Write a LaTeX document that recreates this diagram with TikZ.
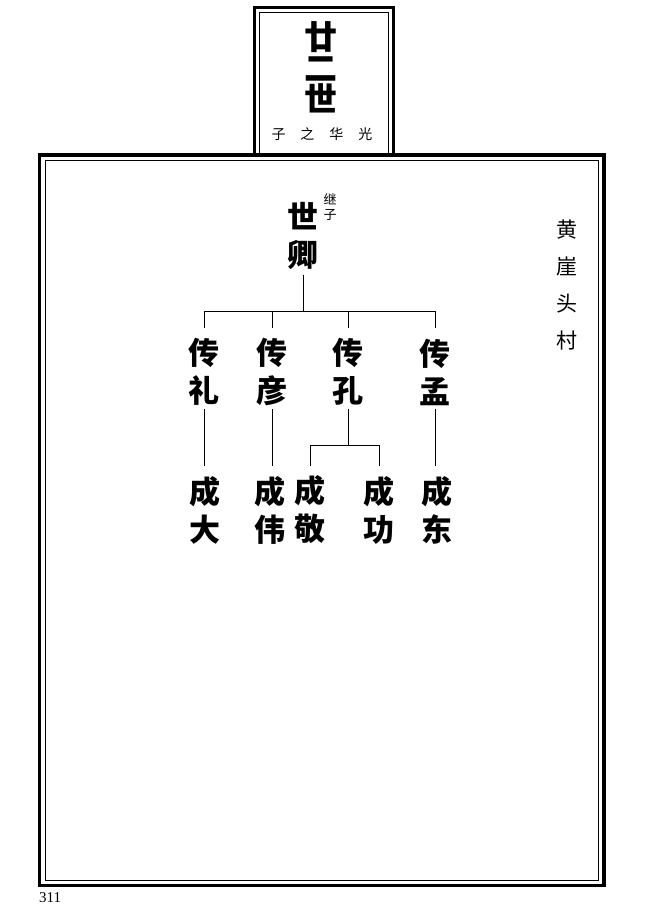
\documentclass[tikz,border=0pt]{standalone}
\usepackage{fontspec}
\setmainfont{Liberation Serif}
\newfontfamily\cjk{Noto Sans CJK SC}
\usetikzlibrary{calc}
\tikzset{
  thickframe/.style={line width=3.2pt},
  thinframe/.style={line width=1pt},
  link/.style={line width=0.9pt},
  person/.style={inner sep=0pt, align=center, font=\cjk\bfseries\fontsize{31}{38}\selectfont},
  note/.style={inner sep=0pt, align=center, font=\cjk\fontsize{13}{15}\selectfont},
  village/.style={inner sep=0pt, align=center, font=\cjk\fontsize{21}{37}\selectfont},
}
\begin{document}
\begin{tikzpicture}[x=1pt,y=-1pt]
\useasboundingbox (0,0) rectangle (646,914);
% main frame
\draw[thickframe] (39.5,155) rectangle (604,885.5);
\draw[thinframe] (45.5,160) rectangle (598,880.5);
% top tab
\draw[thickframe] (254.5,155) -- (254.5,7.5) -- (393.5,7.5) -- (393.5,155);
\draw[thinframe] (259.5,155) -- (259.5,12.5) -- (388,12.5) -- (388,155);
% top tab text
\node[inner sep=0pt, align=center, font=\cjk\bfseries\fontsize{33}{31}\selectfont] (gen) at (321,67.5) {廿\\二\\世};
\node[inner sep=0pt, font=\cjk\fontsize{14}{14}\selectfont] (sub) at (322,134) {子\hspace{15pt}之\hspace{15pt}华\hspace{15pt}光};
% village
\node[village] (vil) at (567,285) {黄\\崖\\头\\村};
% tree
\node[person] (sq) at (303,236) {世\\卿};
\node[note] (jz) at (330,207) {继\\子};
\node[person] (li) at (204,372) {传\\礼};
\node[person] (yan) at (272,372) {传\\彦};
\node[person] (kong) at (348,372) {传\\孔};
\node[person] (meng) at (435,372) {传\\孟};
\node[person] (da) at (205,510) {成\\大};
\node[person] (wei) at (270,510) {成\\伟};
\node[person] (jing) at (310,510) {成\\敬};
\node[person] (gong) at (379,510) {成\\功};
\node[person] (dong) at (437,510) {成\\东};
% connectors
\foreach \c in {li,yan,kong,meng}
  \draw[link] ([yshift=-5pt]sq.south) -- ++(0,37) -| ([yshift=10pt]\c.north);
\foreach \c in {jing,gong}
  \draw[link] ([yshift=-3pt]kong.south) -- ++(0,37) -| ([yshift=10pt]\c.north);
\draw[link] ([yshift=-3pt]li.south) -- ([yshift=10pt]li.south |- da.north);
\draw[link] ([yshift=-3pt]yan.south) -- ([yshift=10pt]yan.south |- wei.north);
\draw[link] ([yshift=-3pt]meng.south) -- ([yshift=10pt]meng.south |- dong.north);
% page number
\node[inner sep=0pt, anchor=west, font=\fontsize{15}{15}\selectfont] (pg) at (39,898) {311};
\end{tikzpicture}
\end{document}
